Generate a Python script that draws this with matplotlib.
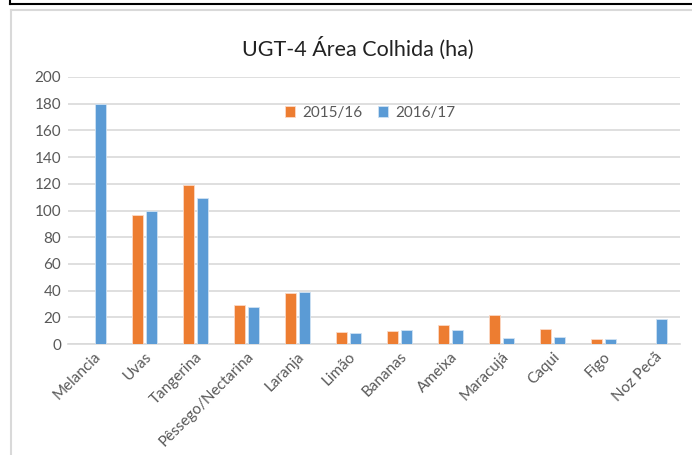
import matplotlib
matplotlib.use("Agg")
import matplotlib.pyplot as plt
import numpy as np
from matplotlib.lines import Line2D

categories = ["Melancia", "Uvas", "Tangerina", "Pêssego/Nectarina", "Laranja", "Limão",
              "Bananas", "Ameixa", "Maracujá", "Caqui", "Figo", "Noz Pecã"]
s2015 = [0, 97, 119, 29, 38, 9, 10, 14, 22, 11, 4, 0]
s2016 = [180, 100, 109, 28, 39, 8, 10.5, 10.5, 4.5, 5, 3.7, 19]
series_names = ["2015/16", "2016/17"]
yticks = [0, 20, 40, 60, 80, 100, 120, 140, 160, 180, 200]

plt.rcParams['font.family'] = ['Lato', 'DejaVu Sans']
W, H = 692, 455
fig = plt.figure(figsize=(W / 100, H / 100), dpi=100)

# frame lines
fig.add_artist(Line2D([10 / W, 1], [1 - 4 / H, 1 - 4 / H], color="black", lw=1.5))
fig.add_artist(Line2D([10 / W, 10 / W], [1, 1 - 4 / H], color="black", lw=1.5))
fig.add_artist(Line2D([11 / W, 1], [1 - 10 / H, 1 - 10 / H], color="#d9d9d9", lw=1.5))
fig.add_artist(Line2D([11 / W, 11 / W], [1 - 10 / H, 1 - 454 / H], color="#d9d9d9", lw=1.5))

ax = fig.add_axes([68 / W, 1 - 344 / H, (680 - 68) / W, (344 - 77) / H])
x = np.arange(len(categories))
bw = 0.23
c1, c2 = "#ED7D31", "#5B9BD5"
ax.bar(x - bw / 2 - 0.02, s2015, width=bw, color=c1, label=series_names[0],
       edgecolor="#fbd9c6", linewidth=0.6, zorder=3)
ax.bar(x + bw / 2 + 0.02, s2016, width=bw, color=c2, label=series_names[1],
       edgecolor="#cfe2f3", linewidth=0.6, zorder=3)

ax.set_xlim(-0.5, len(categories) - 0.5)
ax.set_ylim(0, 200)
ax.set_yticks(yticks)
ax.yaxis.grid(True, color="#d9d9d9", lw=1.2, zorder=0)
for s in ["top", "right", "left"]:
    ax.spines[s].set_visible(False)
ax.spines["bottom"].set_color("#d9d9d9")
ax.spines["bottom"].set_linewidth(1.2)
ax.tick_params(axis="both", length=0, colors="#595959", labelsize=11)
ax.tick_params(axis="y", pad=5)
ax.set_xticks(x)
ax.set_xticklabels(categories, rotation=45, ha="right", rotation_mode="anchor")
ax.tick_params(axis="x", pad=4)

fig.text(357.5 / W, 1 - 48 / H, "UGT-4 Área Colhida (ha)", ha="center", va="center",
         fontsize=15.5, color="#222222")

ax.legend(loc="center", bbox_to_anchor=((370 - 68) / 612, (344 - 113) / 267), ncol=2,
          frameon=False, fontsize=11, handlelength=0.7, handleheight=0.7,
          handletextpad=0.45, columnspacing=1.0, labelcolor="#595959")

fig.savefig("out.png", dpi=100)
